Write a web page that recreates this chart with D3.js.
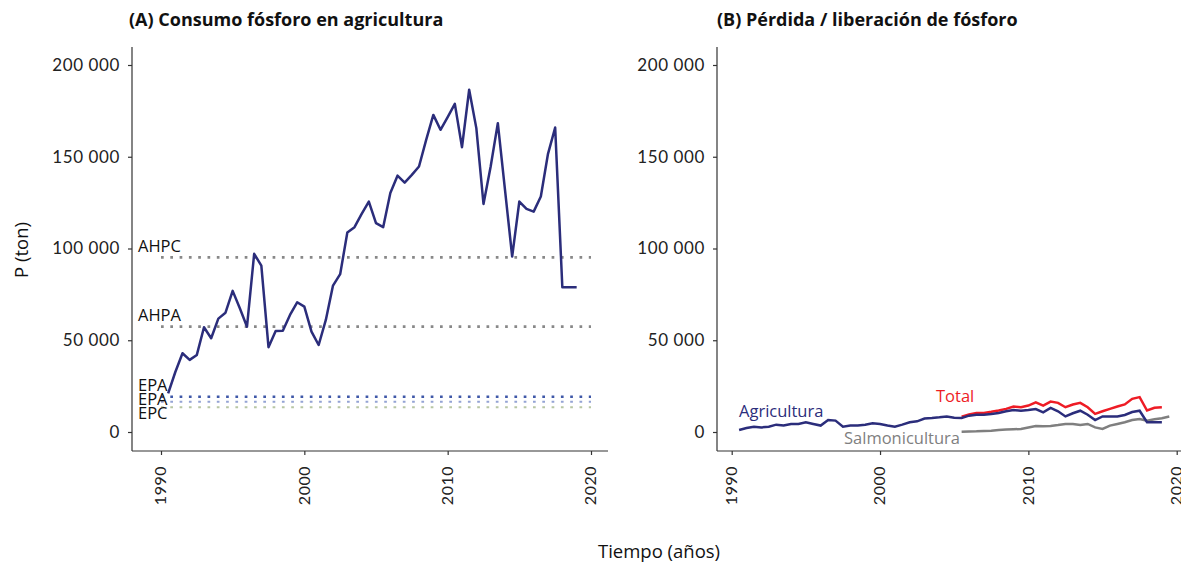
<!DOCTYPE html>
<html>
<head>
<meta charset="utf-8">
<script src="https://cdn.jsdelivr.net/npm/d3@7"></script>
<style>
  body { margin: 0; background: #fff; }
  svg { display: block; }
  .tick text { font-family: Lato, sans-serif; fill: #222; }
  .lbl { font-family: "Open Sans", sans-serif; font-size: 16.5px; }
  .ttl { font-family: "Open Sans", sans-serif; font-weight: bold; font-size: 18px; fill: #111; }
  .axt { font-family: "Open Sans", sans-serif; font-size: 18.5px; fill: #111; }
</style>
</head>
<body>
<svg id="chart"></svg>
<script>
var width = 1181,
    height = 565;

// time in years, half-year steps
var time = [1990.5, 1991, 1991.5, 1992, 1992.5, 1993, 1993.5, 1994, 1994.5, 1995,
            1995.5, 1996, 1996.5, 1997, 1997.5, 1998, 1998.5, 1999, 1999.5, 2000,
            2000.5, 2001, 2001.5, 2002, 2002.5, 2003, 2003.5, 2004, 2004.5, 2005,
            2005.5, 2006, 2006.5, 2007, 2007.5, 2008, 2008.5, 2009, 2009.5, 2010,
            2010.5, 2011, 2011.5, 2012, 2012.5, 2013, 2013.5, 2014, 2014.5, 2015,
            2015.5, 2016, 2016.5, 2017, 2017.5, 2018, 2018.5, 2019];

// (A) consumo de fosforo en agricultura
var consumo = [21100, 32700, 42900, 39300, 42000, 57100, 51100, 61800, 65000, 76900,
               67400, 57400, 97100, 90700, 46200, 55100, 55200, 63800, 70700, 68300,
               54700, 47400, 61100, 79800, 86000, 108700, 111600, 118900, 125600, 113800,
               111600, 130200, 139700, 135900, 140100, 144700, 159200, 172800, 164700, 171600,
               178800, 155200, 186500, 165600, 124300, 144700, 168300, 132000, 95600, 125600,
               121600, 120100, 128300, 151600, 165900, 78900, 78900, 78900];

// reference levels
var refNames = ["AHPC", "AHPA", "EPA", "EPA", "EPC"];
var refValues = [95200, 57400, 19200, 16500, 13500];
var refColors = ["#888888", "#888888", "#3f58a8", "#94a3d4", "#b8c6a4"];

// (B) perdida / liberacion
var agricultura = [1100, 2200, 2900, 2500, 2900, 4000, 3500, 4400, 4400, 5300,
                   4400, 3500, 6500, 6200, 2900, 3500, 3500, 4000, 4700, 4400,
                   3500, 2900, 4000, 5300, 5800, 7300, 7600, 8000, 8500, 7800,
                   7600, 8900, 9400, 9400, 9800, 10400, 11300, 12000, 11600, 12000,
                   12500, 10700, 13100, 11300, 8500, 10200, 11600, 9400, 6500, 8500,
                   8400, 8400, 9300, 10900, 11600, 5300, 5300, 5300];

var timeSalmon = [2005.5, 2006, 2006.5, 2007, 2007.5, 2008, 2008.5, 2009, 2009.5, 2010,
                  2010.5, 2011, 2011.5, 2012, 2012.5, 2013, 2013.5, 2014, 2014.5, 2015,
                  2015.5, 2016, 2016.5, 2017, 2017.5, 2018, 2018.5, 2019, 2019.5];
var salmonicultura = [200, 300, 350, 550, 700, 1100, 1300, 1450, 1650, 2500,
                      3300, 3100, 3300, 3800, 4400, 4400, 3800, 4400, 2500, 1650,
                      3500, 4400, 5300, 6500, 7100, 6200, 6900, 7500, 8400];
var total = [8400, 9500, 10400, 10400, 11000, 11700, 12600, 13900, 13500, 14400,
             16200, 14400, 16600, 15900, 13500, 15000, 15900, 13500, 9900, 11300,
             12600, 13900, 15000, 18100, 19000, 11700, 13200, 13500];

var yTicks = [0, 50000, 100000, 150000, 200000];
var xTicks = [1990, 2000, 2010, 2020];

var navy = "#2b2d7b";

var svg = d3.select('#chart')
            .attr('width', width)
            .attr('height', height);

var fmt = d => d3.format(',')(d).replace(/,/g, ' ');

var y = d3.scaleLinear().domain([0, 200000]).range([432, 65]);
var plotTop = 47, plotBottom = 451;

function drawAxes(x, left, right) {
  var gx = svg.append('g')
              .attr('transform', 'translate(0,' + plotBottom + ')')
              .call(d3.axisBottom(x).tickValues(xTicks).tickFormat(d3.format('d')).tickSize(4));
  gx.select('.domain').attr('d', 'M' + left + ',0H' + right);
  gx.selectAll('.tick text')
    .attr('transform', 'rotate(-90)')
    .attr('text-anchor', 'end')
    .attr('x', -15)
    .attr('y', 0)
    .attr('dy', '0.3em')
    .style('font-size', '16px')
    .style('letter-spacing', '0.5px');

  var gy = svg.append('g')
              .attr('transform', 'translate(' + left + ',0)')
              .call(d3.axisLeft(y).tickValues(yTicks).tickFormat(fmt).tickSize(4));
  gy.select('.domain').attr('d', 'M0,' + plotTop + 'V' + plotBottom);
  gy.selectAll('.tick text')
    .attr('x', -12)
    .style('font-size', '17px')
    .style('letter-spacing', '0.6px');

  [gx, gy].forEach(g => {
    g.select('.domain').attr('stroke', '#333').attr('stroke-width', 1.2);
    g.selectAll('.tick line').attr('stroke', '#333').attr('stroke-width', 1.2);
  });
}

// ---- panel A ----
var xA = d3.scaleLinear().domain([1990, 2020]).range([161, 591]);
drawAxes(xA, 132, 608);

svg.append('text').attr('class', 'ttl')
   .attr('x', 129).attr('y', 26)
   .text('(A) Consumo fósforo en agricultura');

refValues.forEach((v, i) => {
  svg.append('line')
     .attr('x1', xA(1990)).attr('x2', xA(2020))
     .attr('y1', y(v)).attr('y2', y(v))
     .attr('stroke', refColors[i])
     .attr('stroke-width', i < 2 ? 2.8 : (i == 2 ? 2.4 : 2))
     .attr('stroke-dasharray', '2.7,6.6');
});

var refLabelY = [252, 321, 391, 405, 419];
refNames.forEach((n, i) => {
  svg.append('text').attr('class', 'lbl')
     .attr('x', 138).attr('y', refLabelY[i])
     .attr('fill', '#111')
     .text(n);
});

var lineA = d3.line().x((d, i) => xA(time[i])).y(d => y(d));
svg.append('path')
   .datum(consumo)
   .attr('d', lineA)
   .attr('fill', 'none')
   .attr('stroke', navy)
   .attr('stroke-width', 2.5)
   .attr('stroke-linejoin', 'round');

// ---- panel B ----
var xB = d3.scaleLinear().domain([1990, 2020]).range([731.7, 1176.7]);
drawAxes(xB, 717, 1181);

svg.append('text').attr('class', 'ttl')
   .attr('x', 717).attr('y', 26)
   .text('(B) Pérdida / liberación de fósforo');

svg.append('path')
   .datum(salmonicultura)
   .attr('d', d3.line().x((d, i) => xB(timeSalmon[i])).y(d => y(d)))
   .attr('fill', 'none').attr('stroke', '#7f7f7f').attr('stroke-width', 2.5);

svg.append('path')
   .datum(total)
   .attr('d', d3.line().x((d, i) => xB(timeSalmon[i])).y(d => y(d)))
   .attr('fill', 'none').attr('stroke', '#ee1c25').attr('stroke-width', 2.5);

svg.append('path')
   .datum(agricultura)
   .attr('d', d3.line().x((d, i) => xB(time[i])).y(d => y(d)))
   .attr('fill', 'none').attr('stroke', navy).attr('stroke-width', 2.5);

svg.append('text').attr('class', 'lbl')
   .attr('x', 739).attr('y', 417).attr('fill', navy).text('Agricultura');
svg.append('text').attr('class', 'lbl')
   .attr('x', 936).attr('y', 402).attr('fill', '#ee1c25').text('Total');
svg.append('text').attr('class', 'lbl')
   .attr('x', 960).attr('y', 444).attr('text-anchor', 'end').attr('fill', '#7f7f7f').text('Salmonicultura');

// ---- axis titles ----
svg.append('text').attr('class', 'axt')
   .attr('x', 659).attr('y', 558)
   .attr('text-anchor', 'middle')
   .text('Tiempo (años)');

svg.append('text').attr('class', 'axt')
   .attr('transform', 'translate(28,250) rotate(-90)')
   .attr('text-anchor', 'middle')
   .text('P (ton)');
</script>
</body>
</html>
